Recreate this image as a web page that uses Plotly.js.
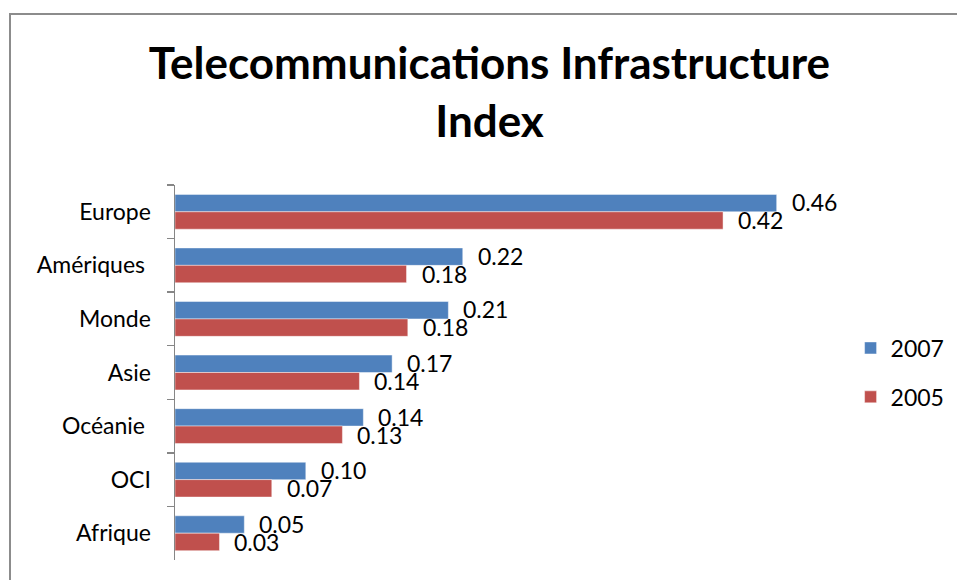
<!DOCTYPE html>
<html>
<head>
<meta charset="utf-8">
<script src="https://cdn.plot.ly/plotly-3.0.1.min.js"></script>
<style>
  html, body { margin: 0; padding: 0; background: #ffffff; }
  #frame { position: absolute; left: 9px; top: 13px; width: 960px; height: 580px;
           border-left: 2px solid #8c8c8c; border-top: 2px solid #8c8c8c; }
  #chart { position: absolute; left: 0; top: 0; width: 957px; height: 580px; }
</style>
</head>
<body>
<div id="frame"></div>
<div id="chart"></div>
<script>
const categories = ["Europe", "Amériques\u00a0", "Monde", "Asie", "Océanie\u00a0", "OCI", "Afrique"];
const values2007 = [0.460, 0.220, 0.209, 0.166, 0.144, 0.100, 0.053];
const values2005 = [0.419, 0.177, 0.178, 0.141, 0.128, 0.074, 0.034];
const seriesNames = ["2007", "2005"];
const seriesColors = ["#4F81BD", "#C0504D"];

const FONT = "Lato, 'Liberation Sans', sans-serif";

const traces = [values2007, values2005].map((vals, i) => ({
  type: "bar",
  orientation: "h",
  name: seriesNames[i],
  legendgroup: "g" + i,
  y: categories,
  x: vals,
  marker: { color: seriesColors[i], line: { color: "rgba(255,255,255,0.45)", width: 1 } },
  hoverinfo: "x+name"
}));

// data labels, placed at each bar's end via the axes
const annotations = [];
[values2007, values2005].forEach((vals, i) => {
  vals.forEach((v, j) => {
    annotations.push({
      x: v, y: categories[j], xref: "x", yref: "y",
      text: v.toFixed(2),
      showarrow: false, xanchor: "left", yanchor: "middle",
      xshift: 13, yshift: i === 0 ? 9.5 : -8.5,
      font: { family: FONT, size: 23, color: "#000000" }
    });
  });
});

const layout = {
  width: 957, height: 580,
  paper_bgcolor: "rgba(0,0,0,0)",
  plot_bgcolor: "rgba(0,0,0,0)",
  margin: { l: 175, r: 127.5, t: 185, b: 20, autoexpand: false },
  title: {
    text: "<b>Telecommunications Infrastructure<br>Index</b>",
    x: 0.5115, xanchor: "center", xref: "container",
    y: 0.863, yanchor: "top", yref: "container",
    font: { family: FONT, size: 44, color: "#000000" }
  },
  barmode: "group",
  bargap: 0.35,
  bargroupgap: 0,
  xaxis: {
    range: [0, 0.5],
    visible: false,
    showgrid: false, zeroline: false
  },
  yaxis: {
    autorange: "reversed",
    showline: true, linecolor: "#868686", linewidth: 1.5,
    ticks: "outside", tickson: "boundaries", ticklen: 7, tickcolor: "#868686", tickwidth: 1.5,
    ticklabelstandoff: 18,
    tickfont: { family: FONT, size: 23, color: "#000000" },
    showgrid: false, zeroline: false
  },
  showlegend: true,
  legend: {
    x: 1.033, xanchor: "left", y: 0.5, yanchor: "middle",
    traceorder: "grouped", tracegroupgap: 16,
    font: { family: FONT, size: 23, color: "#000000" },
    bgcolor: "rgba(0,0,0,0)"
  },
  annotations: annotations
};

Plotly.newPlot("chart", traces, layout, { displayModeBar: false, staticPlot: true });
</script>
</body>
</html>
